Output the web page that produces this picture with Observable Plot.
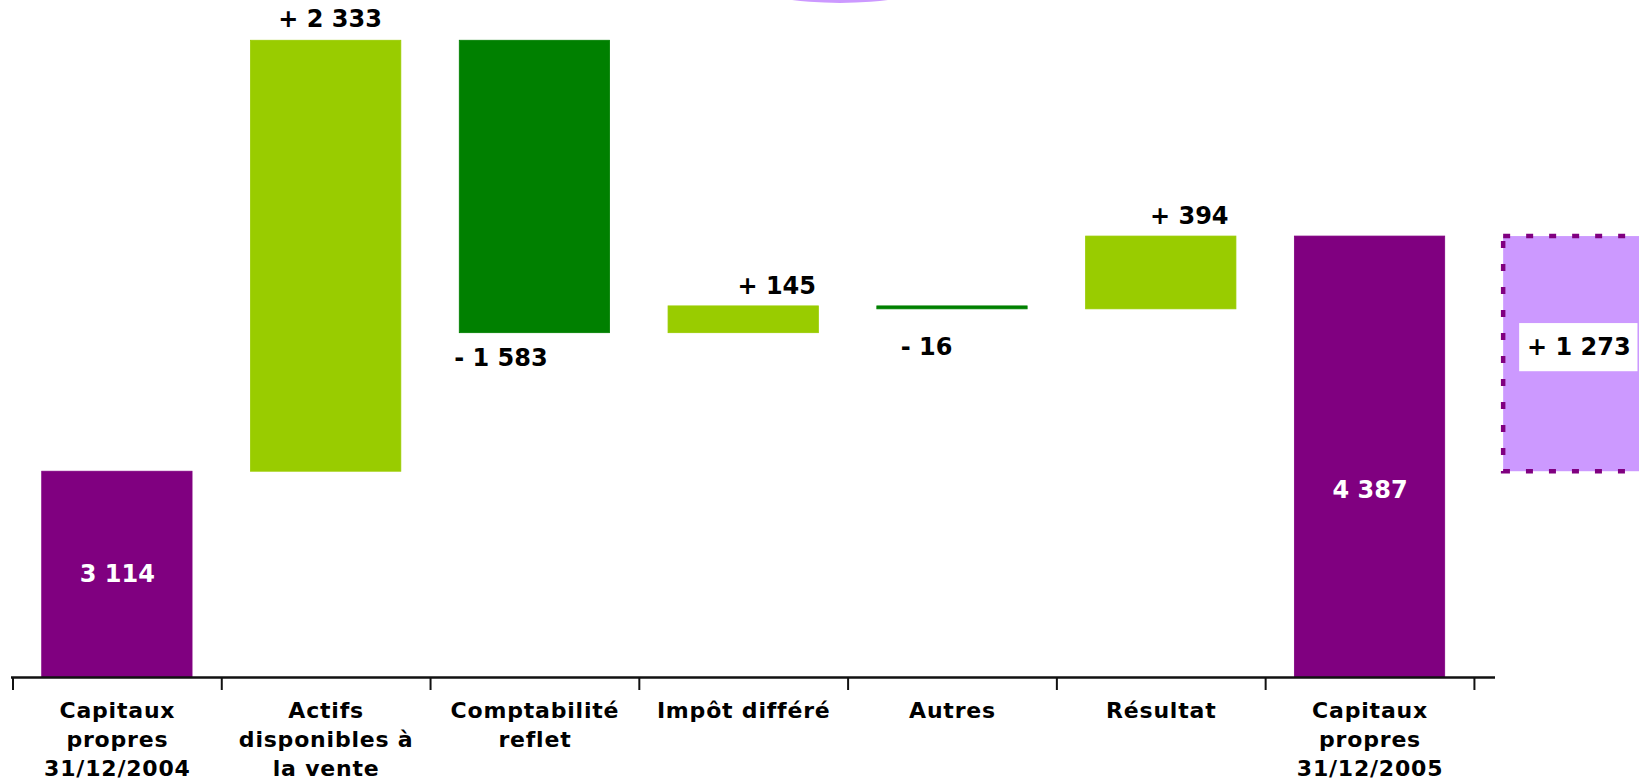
<!DOCTYPE html>
<html>
<head>
<meta charset="utf-8">
<script src="https://cdn.jsdelivr.net/npm/d3@7"></script>
<script src="https://cdn.jsdelivr.net/npm/@observablehq/plot@0.6"></script>
<style>
  html, body { margin: 0; padding: 0; background: #fff; overflow: hidden; }
  #wrap { position: relative; width: 1639px; height: 782px; }
  #bubble { position: absolute; left: 760px; top: -27px; width: 160px; height: 30px; border-radius: 50%;
    background: radial-gradient(ellipse at center, #cc99ff 0%, #cc99ff 75%, rgba(204,153,255,0.6) 100%); }
  g[aria-label="x-axis tick label"] text { letter-spacing: 0.8px; }
</style>
</head>
<body>
<div id="wrap"><div id="bubble"></div></div>
<script>
// ---- data ----
const categories = [
  "Capitaux propres 31/12/2004",
  "Actifs disponibles à la vente",
  "Comptabilité reflet",
  "Impôt différé",
  "Autres",
  "Résultat",
  "Capitaux propres 31/12/2005",
  "Écart"
];
const categoryLabels = [
  "Capitaux\npropres\n31/12/2004",
  "Actifs\ndisponibles à\nla vente",
  "Comptabilité\nreflet",
  "Impôt différé",
  "Autres",
  "Résultat",
  "Capitaux\npropres\n31/12/2005",
  ""
];
const openingEquity = 3114;
const movements = [2333, -1583, 145, -16, 394];
const closingEquity = 4387;
const valueLabels = ["3 114", "+ 2 333", "- 1 583", "+ 145", "- 16", "+ 394", "4 387", "+ 1 273"];
const axisFloor = 2000;   // the value axis is truncated
const axisCeiling = 5600;

// ---- build waterfall ----
const rows = [];
let level = openingEquity;
rows.push({cat: categories[0], y1: 0, y2: openingEquity, kind: "total", label: valueLabels[0]});
movements.forEach((m, i) => {
  const start = level;
  level += m;
  rows.push({cat: categories[i + 1], y1: start, y2: level, kind: m >= 0 ? "up" : "down", label: valueLabels[i + 1]});
});
rows.push({cat: categories[6], y1: 0, y2: closingEquity, kind: "total", label: valueLabels[6]});
const gap = [{cat: categories[7], y1: openingEquity, y2: closingEquity, label: valueLabels[7]}];

const labelOf = new Map(categories.map((c, i) => [c, categoryLabels[i]]));

// ---- styling (outside the data) ----
const xRange = [12.5, 1682.7];
const step = (xRange[1] - xRange[0]) / categories.length;
const font = {fontFamily: "DejaVu Sans", fontWeight: "bold", fontSize: 24};
const deltaOffsets = {
  "Actifs disponibles à la vente": {dx: 4, dy: -21},
  "Comptabilité reflet": {dx: -34, dy: 25},
  "Impôt différé": {dx: 33, dy: -20},
  "Autres": {dx: -26, dy: 38},
  "Résultat": {dx: 28, dy: -20}
};

const deltaTexts = rows.filter(d => d.kind !== "total").map(d => {
  const o = deltaOffsets[d.cat];
  return Plot.text([d], {
    x: "cat",
    y: "y2",
    text: "label",
    dx: o.dx, dy: o.dy, fill: "black", ...font
  });
});

const totals = rows.filter(d => d.kind === "total");

const chart = Plot.plot({
  width: 1639,
  height: 782,
  marginTop: 12,
  marginBottom: 105,
  marginLeft: 11,
  marginRight: 144,
  style: {fontFamily: "DejaVu Sans", background: "white", color: "black", overflow: "hidden"},
  x: {type: "band", domain: categories, range: xRange, paddingInner: 0.28, paddingOuter: 0.14, align: 0.5, round: false, axis: null},
  y: {domain: [axisFloor, axisCeiling], clamp: true, axis: null},
  color: {domain: ["total", "up", "down"], range: ["#800080", "#99cc00", "#008000"]},
  marks: [
    Plot.rectY(rows, {x: "cat", y1: "y1", y2: "y2", fill: "kind", stroke: "kind", strokeWidth: 0.8}),
    Plot.rectY(gap, {x: "cat", y1: "y1", y2: "y2", fill: "#cc99ff", stroke: "#800080", strokeWidth: 4.5, strokeDasharray: "7,16"}),
    Plot.rectY(gap, {x: "cat", y1: "y1", y2: "y2", fill: "white", insetLeft: 16, insetRight: 16, insetTop: 87, insetBottom: 100}),
    Plot.text(gap, {x: "cat", y: d => (d.y1 + d.y2) / 2, text: "label", dy: -7, fill: "black", ...font}),
    Plot.text(totals.slice(0, 1), {x: "cat", y: d => (axisFloor + d.y2) / 2, text: "label", fill: "white", ...font}),
    Plot.text(totals.slice(1), {x: "cat", y: d => (axisFloor + d.y2) / 2, text: "label", dy: 33, fill: "white", ...font}),
    ...deltaTexts,
    Plot.ruleY([axisFloor], {stroke: "#111", strokeWidth: 2.5}),
    Plot.axisX({ticks: categories, tickSize: 13, dx: -step / 2, stroke: "#111", strokeWidth: 2, fill: "none", label: null}),
    Plot.axisX({ticks: categories.slice(0, 7), tickSize: 0, tickPadding: 20, tickFormat: d => labelOf.get(d), label: null,
      fontSize: 22, fontWeight: "bold", fontFamily: "DejaVu Sans", lineHeight: 1.31, fill: "black"})
  ]
});
document.getElementById("wrap").appendChild(chart);
chart.style.position = "absolute";
chart.style.left = "0";
chart.style.top = "0";
document.getElementById("wrap").appendChild(document.getElementById("bubble"));
</script>
</body>
</html>
